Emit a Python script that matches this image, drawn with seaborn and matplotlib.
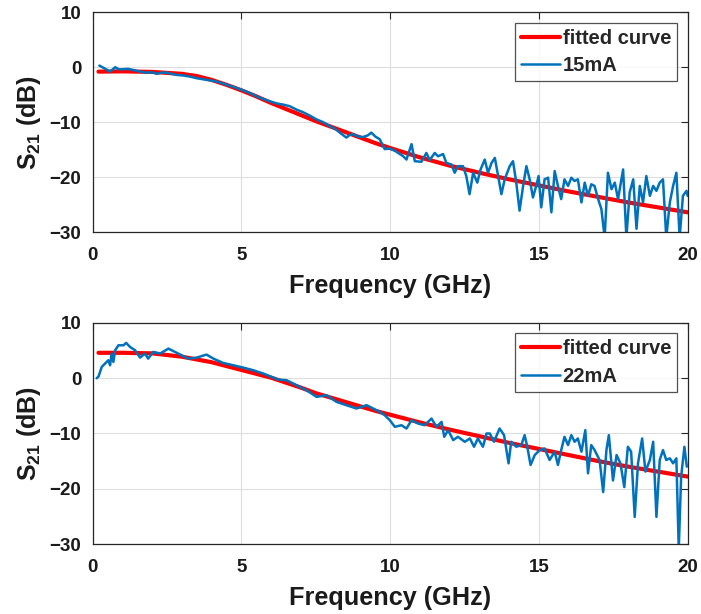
import matplotlib
matplotlib.use("Agg")
import matplotlib.pyplot as plt
import seaborn as sns
import pandas as pd

# ---- data -------------------------------------------------------------
freq_fit = [0.2, 1, 2, 3, 3.5, 4, 4.5, 5, 5.5, 6, 6.5, 7, 7.5, 8, 8.5, 9,
            9.5, 10, 11, 12, 13, 14, 15, 16, 17, 18, 19, 20]
fit_15mA = [-0.8, -0.75, -0.85, -1.2, -1.6, -2.3, -3.2, -4.2, -5.3, -6.5,
            -7.6, -8.7, -9.8, -10.8, -11.8, -12.8, -13.8, -14.7, -16.4,
            -17.9, -19.2, -20.4, -21.5, -22.6, -23.6, -24.6, -25.5, -26.4]
fit_22mA = [4.6, 4.6, 4.5, 3.9, 3.4, 2.9, 2.2, 1.5, 0.8, 0.1, -0.8, -1.7,
            -2.7, -3.5, -4.3, -5.1, -5.9, -6.6, -8.0, -9.3, -10.5, -11.7,
            -12.8, -13.9, -15.0, -16.0, -16.9, -17.8]

freq_15mA = [0.23, 0.40, 0.59, 0.76, 0.90, 1.04, 1.20, 1.37, 1.60, 1.82, 2.00,
             2.15, 2.30, 2.49, 2.65, 2.83, 3.05, 3.27, 3.50, 3.72, 3.95, 4.17,
             4.40, 4.62, 4.80, 5.01, 5.25, 5.51, 5.75, 5.96, 6.20, 6.41, 6.63,
             6.85, 7.08, 7.30, 7.53, 7.75, 7.97, 8.15, 8.31, 8.53, 8.65, 8.76,
             8.92, 9.09, 9.25, 9.37, 9.50, 9.65, 9.82, 9.99, 10.16, 10.27,
             10.44, 10.55, 10.72, 10.83, 11.05, 11.22, 11.33, 11.50, 11.61,
             11.78, 11.89, 12.06, 12.17, 12.28, 12.45, 12.56, 12.67, 12.79,
             12.93, 13.04, 13.18, 13.29, 13.41, 13.52, 13.63, 13.74, 13.85,
             14.02, 14.13, 14.24, 14.35, 14.47, 14.58, 14.69, 14.80, 14.91,
             14.99, 15.08, 15.19, 15.31, 15.42, 15.53, 15.64, 15.75, 15.86,
             15.98, 16.09, 16.20, 16.31, 16.43, 16.54, 16.65, 16.76, 16.87,
             16.99, 17.10, 17.21, 17.32, 17.44, 17.55, 17.66, 17.83, 17.94,
             18.05, 18.17, 18.28, 18.39, 18.50, 18.61, 18.73, 18.84, 18.95,
             19.06, 19.17, 19.28, 19.40, 19.51, 19.62, 19.73, 19.84, 19.96,
             20.0]
s21_15mA = [0.3, -0.2, -0.8, 0.0, -0.4, -0.36, -0.3, -0.5, -0.8, -1.0, -0.9,
            -1.2, -1.0, -0.97, -1.2, -1.4, -1.5, -1.7, -2.0, -2.2, -2.4, -2.6,
            -3.0, -3.4, -3.7, -4.1, -4.6, -5.3, -5.8, -6.2, -6.6, -6.8, -7.1,
            -7.7, -8.2, -8.8, -9.5, -10.0, -10.7, -11.2, -11.9, -12.8, -12.3,
            -12.2, -12.6, -12.7, -12.4, -11.9, -12.6, -13.1, -14.9, -14.8,
            -15.2, -15.6, -16.2, -16.8, -14.0, -17.1, -17.2, -15.6, -16.9,
            -15.6, -16.2, -15.8, -17.4, -17.7, -19.2, -18.0, -18.0, -19.8,
            -23.1, -19.2, -21.0, -18.6, -16.8, -19.2, -17.4, -16.5, -19.8,
            -23.1, -20.4, -18.0, -17.1, -21.0, -26.1, -21.6, -18.0, -20.4,
            -23.7, -21.6, -19.8, -25.5, -20.4, -20.1, -26.4, -18.9, -21.6,
            -24.0, -20.4, -21.6, -20.1, -20.7, -20.4, -24.6, -21.0, -23.4,
            -21.3, -21.6, -24.0, -25.8, -31.0, -19.2, -22.2, -21.0, -24.0,
            -18.6, -31.0, -22.8, -20.4, -29.4, -21.6, -24.6, -19.8, -23.4,
            -21.6, -22.5, -21.0, -20.4, -31.0, -24.6, -21.6, -19.2, -31.0,
            -23.4, -22.5, -23.4]

freq_22mA = [0.14, 0.20, 0.31, 0.42, 0.53, 0.59, 0.64, 0.70, 0.76, 0.87, 1.04,
             1.13, 1.26, 1.43, 1.60, 1.76, 1.87, 2.04, 2.27, 2.55, 2.77, 2.99,
             3.22, 3.50, 3.83, 4.06, 4.39, 4.73, 5.06, 5.40, 5.74, 6.02, 6.24,
             6.52, 6.86, 7.19, 7.53, 7.86, 8.20, 8.53, 8.87, 9.21, 9.43, 9.65,
             9.82, 9.99, 10.16, 10.38, 10.55, 10.72, 10.94, 11.16, 11.39,
             11.56, 11.73, 11.82, 11.95, 12.12, 12.28, 12.51, 12.68, 12.82,
             12.95, 13.12, 13.24, 13.35, 13.49, 13.68, 13.83, 13.98, 14.07,
             14.24, 14.41, 14.52, 14.61, 14.72, 14.86, 15.03, 15.19, 15.36,
             15.53, 15.64, 15.75, 15.86, 15.98, 16.09, 16.20, 16.31, 16.43,
             16.56, 16.65, 16.76, 16.87, 17.04, 17.16, 17.27, 17.35, 17.49,
             17.61, 17.74, 17.87, 17.99, 18.10, 18.22, 18.33, 18.47, 18.58,
             18.73, 18.84, 18.95, 19.06, 19.17, 19.28, 19.40, 19.51, 19.62,
             19.70, 19.78, 19.89, 19.97]
s21_22mA = [0.0, 0.3, 2.05, 2.65, 3.25, 2.35, 4.45, 2.95, 5.06, 5.96, 5.96,
            6.39, 5.66, 5.06, 3.73, 4.46, 3.55, 4.76, 4.46, 5.36, 4.76, 4.16,
            3.55, 3.73, 4.28, 3.55, 2.77, 2.35, 1.93, 1.45, 0.84, 0.24, -0.24,
            -0.36, -1.27, -2.17, -3.38, -3.07, -4.28, -4.88, -5.48, -4.88,
            -5.48, -6.08, -6.7, -7.6, -8.8, -8.5, -9.1, -7.6, -8.2, -8.5,
            -7.3, -8.8, -7.9, -10.6, -9.4, -11.2, -10.6, -11.5, -10.9, -12.4,
            -10.9, -12.4, -10.0, -10.0, -11.5, -9.1, -10.3, -15.4, -11.5,
            -12.4, -12.1, -10.3, -12.4, -15.7, -13.9, -13.0, -12.7, -14.8,
            -13.3, -15.7, -13.0, -10.6, -12.1, -10.3, -11.5, -10.9, -13.3,
            -9.4, -17.2, -12.1, -13.0, -14.8, -20.6, -13.0, -10.3, -18.5,
            -13.9, -15.4, -19.7, -12.4, -13.3, -25.1, -15.4, -10.9, -16.9,
            -14.8, -11.5, -25.1, -14.8, -13.0, -14.8, -14.5, -15.4, -14.5,
            -31.0, -17.8, -12.4, -16.0]

panels = [
    (freq_15mA, s21_15mA, fit_15mA, "15mA"),
    (freq_22mA, s21_22mA, fit_22mA, "22mA"),
]
x_ticks = [0, 5, 10, 15, 20]
y_ticks = [-30, -20, -10, 0, 10]

# ---- style ------------------------------------------------------------
sns.set_style("white")
plt.rcParams["font.family"] = ["Liberation Sans", "DejaVu Sans"]
plt.rcParams["font.weight"] = "bold"
plt.rcParams["mathtext.fontset"] = "custom"
plt.rcParams["mathtext.rm"] = "Liberation Sans:bold"
plt.rcParams["mathtext.bf"] = "Liberation Sans:bold"
plt.rcParams["mathtext.it"] = "Liberation Sans:bold"

fit_color = "#ff0000"
meas_color = "#0072BD"
spine_color = "#262626"

fig = plt.figure(figsize=(7.01, 6.14), dpi=100)
positions = [
    [0.132, 0.622, 0.849, 0.358],
    [0.132, 0.114, 0.849, 0.360],
]

for (freq, s21, fit, label), pos in zip(panels, positions):
    ax = fig.add_axes(pos)
    fit_df = pd.DataFrame({"f": freq_fit, "s": fit})
    meas_df = pd.DataFrame({"f": freq, "s": s21})
    sns.lineplot(data=fit_df, x="f", y="s", ax=ax, color=fit_color,
                 linewidth=3.0, label="fitted curve", estimator=None,
                 sort=False)
    sns.lineplot(data=meas_df, x="f", y="s", ax=ax, color=meas_color,
                 linewidth=1.8, label=label, estimator=None, sort=False)

    ax.set_xlim(0, 20)
    ax.set_ylim(-30, 10)
    ax.set_xticks(x_ticks)
    ax.set_yticks(y_ticks)
    ax.grid(True, color="#dedede", linewidth=0.8)
    ax.set_axisbelow(True)
    ax.tick_params(direction="in", length=5, width=0.8, top=True,
                   right=True, labelsize=13.5, colors=spine_color,
                   labelcolor="#1a1a1a")
    ax.tick_params(axis="x", pad=11)
    ax.tick_params(axis="y", pad=8)
    for lab in ax.get_xticklabels() + ax.get_yticklabels():
        lab.set_fontweight("bold")
    for sp in ax.spines.values():
        sp.set_color(spine_color)
        sp.set_linewidth(0.9)
    ax.set_xlabel("Frequency (GHz)", fontsize=18.2, fontweight="bold",
                  color="#1a1a1a", labelpad=7)
    ax.set_ylabel(r"S$_{21}$ (dB)", fontsize=18, fontweight="bold",
                  color="#1a1a1a", labelpad=5)

    leg = ax.legend(loc="upper right", fontsize=14.5, frameon=True,
                    fancybox=False, borderaxespad=0.52, handlelength=1.9,
                    handletextpad=0.15, borderpad=0.3, labelspacing=0.42)
    leg.get_frame().set_edgecolor(spine_color)
    leg.get_frame().set_linewidth(0.9)
    for t in leg.get_texts():
        t.set_fontweight("bold")

fig.savefig("out.png", dpi=100)
